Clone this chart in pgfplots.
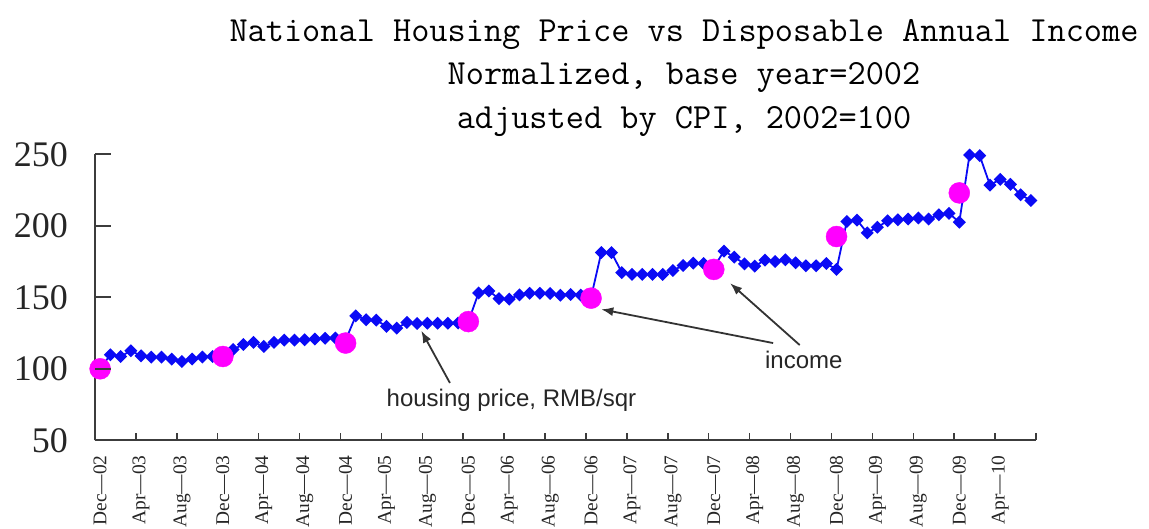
\documentclass[border=0pt]{standalone}
\usepackage{fontspec}
\setmainfont{Liberation Serif}
\newfontfamily\sansfont{Liberation Sans}
\usepackage{pgfplots}
\pgfplotsset{compat=1.18}
\usetikzlibrary{arrows.meta}
\definecolor{hblue}{RGB}{10,10,245}
\definecolor{hmag}{RGB}{255,0,255}
\definecolor{axgray}{RGB}{60,60,60}
\begin{document}
\begin{tikzpicture}
\useasboundingbox (0,0) rectangle (1149pt,529pt);
\begin{axis}[
  at={(95pt,88.7pt)}, anchor=south west,
  scale only axis, width=941pt, height=286pt,
  xmin=-0.5, xmax=91.5, ymin=50, ymax=250,
  axis x line*=bottom, axis y line*=left,
  axis line style={draw=axgray, line width=1.8pt},
  tick align=inside,
  major tick length=16pt,
  minor tick length=7.7pt,
  ytick={50,100,150,200,250},
  ytick style={draw=axgray, line width=1.6pt},
  yticklabel style={font=\fontsize{36}{36}\selectfont, text=black!85, inner sep=0pt},
  yticklabel shift=27pt,
  /pgf/number format/assume math mode=true,
  xtick={0,4,...,88},
  xticklabels={Dec---02,Apr---03,Aug---03,Dec---03,Apr---04,Aug---04,Dec---04,Apr---05,Aug---05,Dec---05,Apr---06,Aug---06,Dec---06,Apr---07,Aug---07,Dec---07,Apr---08,Aug---08,Dec---08,Apr---09,Aug---09,Dec---09,Apr---10},
  major x tick style={draw=none},
  minor xtick={-0.5,3.5,...,91.5},
  minor x tick style={draw=axgray, line width=1.5pt},
  xticklabel style={rotate=90, anchor=east, inner sep=0pt, font=\fontsize{19.4}{19.4}\selectfont, text=black!85},
  xticklabel shift=15pt,
  clip=false,
]
\addplot[color=hblue, line width=1.8pt, mark=square*, mark size=3.7pt, mark options={rotate=45, fill=hblue, draw=hblue}] coordinates {
(0,100) (1,109.8) (2,108.6) (3,112.6) (4,109.1) (5,108.2) (6,108.2) (7,106.8) (8,105.1) (9,106.8)
(10,108.2) (11,108.6) (12,109.5) (13,113.5) (14,117) (15,118.5) (16,115.6) (17,118.5) (18,120) (19,120)
(20,120.3) (21,120.8) (22,121.3) (23,121.5) (24,120) (25,137) (26,134.3) (27,134) (28,129.6) (29,128.4)
(30,132.4) (31,131.7) (32,131.9) (33,131.9) (34,131.9) (35,132) (36,133) (37,153) (38,154.4) (39,149)
(40,148.7) (41,151.7) (42,152.8) (43,152.8) (44,152.7) (45,151.5) (46,152) (47,151.5) (48,150) (49,181.3)
(50,181.3) (51,167.3) (52,166) (53,166) (54,166) (55,166) (56,168.8) (57,172.3) (58,173.9) (59,173.6)
(60,171) (61,182.3) (62,178.1) (63,173.4) (64,171.8) (65,176) (66,175) (67,176.2) (68,174.1) (69,172)
(70,172) (71,173.6) (72,169.5) (73,203) (74,204) (75,195.1) (76,199) (77,203.5) (78,204.2) (79,204.7)
(80,205.5) (81,204.7) (82,207.7) (83,208.7) (84,202.5) (85,249.5) (86,249) (87,228.5) (88,232.5) (89,229)
(90,221.7) (91,217.7)
};
\addplot[only marks, mark=*, mark size=10.5pt, mark options={fill=hmag, draw=hmag}] coordinates {
(0,100) (12,108.6) (24,118) (36,133) (48,149.4) (60,169.5) (72,192.5) (84,223)
};
\node[anchor=west, inner sep=0pt, font=\sansfont\fontsize{24}{24}\selectfont, text=black!85] at (axis cs:28,78) {housing price, RMB/sqr};
\node[anchor=center, inner sep=0pt, font=\sansfont\fontsize{24}{24}\selectfont, text=black!85] at (axis cs:68.8,106.2) {income};
\draw[-{Latex[length=12pt,width=9pt]}, line width=1.8pt, black!80] (axis cs:34.2,90.1) -- (axis cs:31.4,126.6);
\draw[-{Latex[length=12pt,width=9pt]}, line width=1.8pt, black!80] (axis cs:65.8,118) -- (axis cs:49.0,141.6);
\draw[-{Latex[length=12pt,width=9pt]}, line width=1.8pt, black!80] (axis cs:68.4,116.6) -- (axis cs:61.6,159.8);
\end{axis}
\draw[axgray, line width=1.8pt] (95pt,160.2pt) -- (111pt,160.2pt);
\draw[axgray, line width=1.8pt] (95pt,231.7pt) -- (111pt,231.7pt);
\draw[axgray, line width=1.8pt] (95pt,303.2pt) -- (111pt,303.2pt);
\draw[axgray, line width=1.8pt] (95pt,374.7pt) -- (111pt,374.7pt);
\node[anchor=base, inner sep=0pt, font=\ttfamily\fontsize{35.3}{35}\selectfont] at (684pt,487pt) {National Housing Price vs Disposable Annual Income};
\node[anchor=base, inner sep=0pt, font=\ttfamily\fontsize{35.3}{35}\selectfont] at (684pt,444pt) {Normalized, base year=2002};
\node[anchor=base, inner sep=0pt, font=\ttfamily\fontsize{35.3}{35}\selectfont] at (684pt,400pt) {adjusted by CPI, 2002=100};
\end{tikzpicture}
\end{document}
